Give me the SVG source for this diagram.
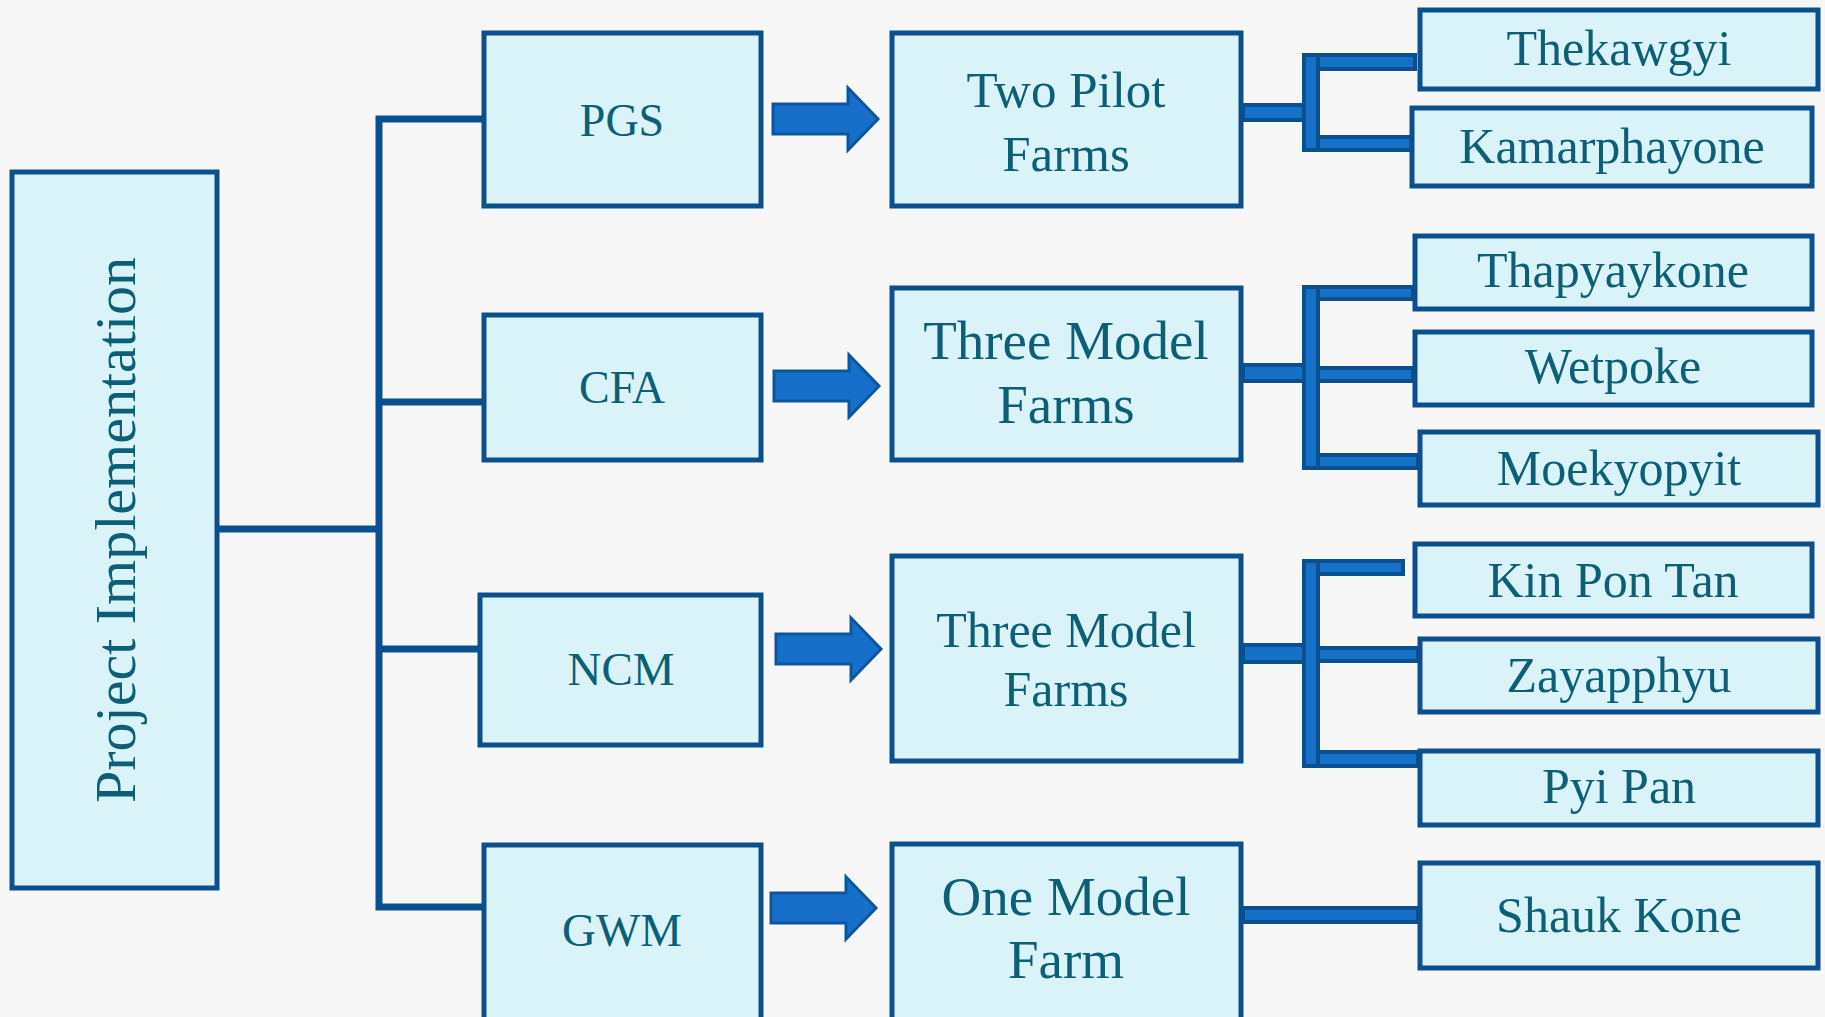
<svg xmlns="http://www.w3.org/2000/svg" width="1825" height="1017" viewBox="0 0 1825 1017">
<style>
.box{fill:#daf3f8;stroke:#0b4f8f;stroke-width:5}
.rbox{fill:#daf3f8;stroke:#0b4f8f;stroke-width:5}
.t{font-family:"Liberation Serif",serif;fill:#0c5f75;text-anchor:middle}
.bus{fill:none;stroke:#0a4f8f;stroke-width:7;stroke-linejoin:miter}
.bar{fill:#1570c8;stroke:#0b4f8f;stroke-width:4}
.arr{fill:#1670c9;stroke:#0c55a0;stroke-width:3;stroke-linejoin:miter}
</style>
<defs>
<polygon id="arrow" class="arr" points="0,-15 75,-15 75,-31 105,0 75,31 75,15 0,15"/>
</defs>
<rect x="0" y="0" width="1825" height="1017" fill="#f7f7f7"/>

<g id="connectors">
  <path class="bus" d="M219,529 H379 M484,119 H379 V907 H484 M379,402 H484 M379,649 H480"/>
  <use href="#arrow" x="773" y="119"/>
  <use href="#arrow" x="774" y="386"/>
  <use href="#arrow" x="776" y="649"/>
  <use href="#arrow" x="771" y="908"/>
  <!-- Two Pilot Farms -->
  <rect class="bar" x="1243" y="105" width="68" height="15"/>
  <rect class="bar" x="1304" y="55" width="111" height="14"/>
  <rect class="bar" x="1304" y="137" width="108" height="13"/>
  <rect class="bar" x="1304" y="55" width="14" height="95"/>
  <!-- CFA Farms -->
  <rect class="bar" x="1243" y="365" width="68" height="16"/>
  <rect class="bar" x="1304" y="368" width="109" height="13"/>
  <rect class="bar" x="1304" y="287" width="109" height="12"/>
  <rect class="bar" x="1304" y="455" width="114" height="13"/>
  <rect class="bar" x="1304" y="287" width="14" height="181"/>
  <!-- NCM Farms -->
  <rect class="bar" x="1243" y="645" width="68" height="17"/>
  <rect class="bar" x="1304" y="648" width="114" height="13"/>
  <rect class="bar" x="1304" y="561" width="99" height="13"/>
  <rect class="bar" x="1304" y="752" width="114" height="14"/>
  <rect class="bar" x="1304" y="561" width="14" height="205"/>
  <!-- GWM Farm -->
  <rect class="bar" x="1243" y="908" width="175" height="14"/>
</g>

<g id="root">
  <rect class="box" x="12" y="172" width="205" height="716"/>
  <text class="t" font-size="58" transform="translate(135,530) rotate(-90)">Project Implementation</text>
</g>

<g id="pgs"><rect class="box" x="484" y="33" width="277" height="173"/><text class="t" x="622" y="136" font-size="46">PGS</text></g>
<g id="cfa"><rect class="box" x="484" y="315" width="277" height="145"/><text class="t" x="622" y="403" font-size="46">CFA</text></g>
<g id="ncm"><rect class="box" x="480" y="595" width="281" height="150"/><text class="t" x="621" y="685" font-size="47">NCM</text></g>
<g id="gwm"><rect class="box" x="484" y="845" width="277" height="190"/><text class="t" x="622" y="946" font-size="47">GWM</text></g>

<g id="two-pilot"><rect class="box" x="892" y="33" width="349" height="173"/><text class="t" font-size="51"><tspan x="1066" y="107">Two Pilot</tspan><tspan x="1066" y="171">Farms</tspan></text></g>
<g id="three-model-cfa"><rect class="box" x="892" y="288" width="349" height="172"/><text class="t" font-size="55"><tspan x="1066" y="359">Three Model</tspan><tspan x="1066" y="423">Farms</tspan></text></g>
<g id="three-model-ncm"><rect class="box" x="892" y="556" width="349" height="205"/><text class="t" font-size="50"><tspan x="1066" y="647">Three Model</tspan><tspan x="1066" y="706">Farms</tspan></text></g>
<g id="one-model"><rect class="box" x="892" y="844" width="349" height="200"/><text class="t" font-size="55"><tspan x="1066" y="915">One Model</tspan><tspan x="1066" y="978">Farm</tspan></text></g>

<g id="thekawgyi"><rect class="rbox" x="1420" y="10" width="398" height="79"/><text class="t" x="1619" y="65" font-size="50">Thekawgyi</text></g>
<g id="kamarphayone"><rect class="rbox" x="1412" y="108" width="400" height="78"/><text class="t" x="1612" y="163" font-size="50">Kamarphayone</text></g>
<g id="thapyaykone"><rect class="rbox" x="1415" y="236" width="397" height="73"/><text class="t" x="1613" y="287" font-size="50">Thapyaykone</text></g>
<g id="wetpoke"><rect class="rbox" x="1415" y="332" width="397" height="73"/><text class="t" x="1613" y="383" font-size="50">Wetpoke</text></g>
<g id="moekyopyit"><rect class="rbox" x="1420" y="432" width="398" height="73"/><text class="t" x="1619" y="485" font-size="50">Moekyopyit</text></g>
<g id="kin-pon-tan"><rect class="rbox" x="1415" y="544" width="397" height="72"/><text class="t" x="1613" y="597" font-size="50">Kin Pon Tan</text></g>
<g id="zayapphyu"><rect class="rbox" x="1420" y="639" width="398" height="73"/><text class="t" x="1619" y="692" font-size="50">Zayapphyu</text></g>
<g id="pyi-pan"><rect class="rbox" x="1420" y="751" width="398" height="74"/><text class="t" x="1619" y="803" font-size="50">Pyi Pan</text></g>
<g id="shauk-kone"><rect class="rbox" x="1420" y="863" width="398" height="105"/><text class="t" x="1619" y="932" font-size="50">Shauk Kone</text></g>
</svg>
